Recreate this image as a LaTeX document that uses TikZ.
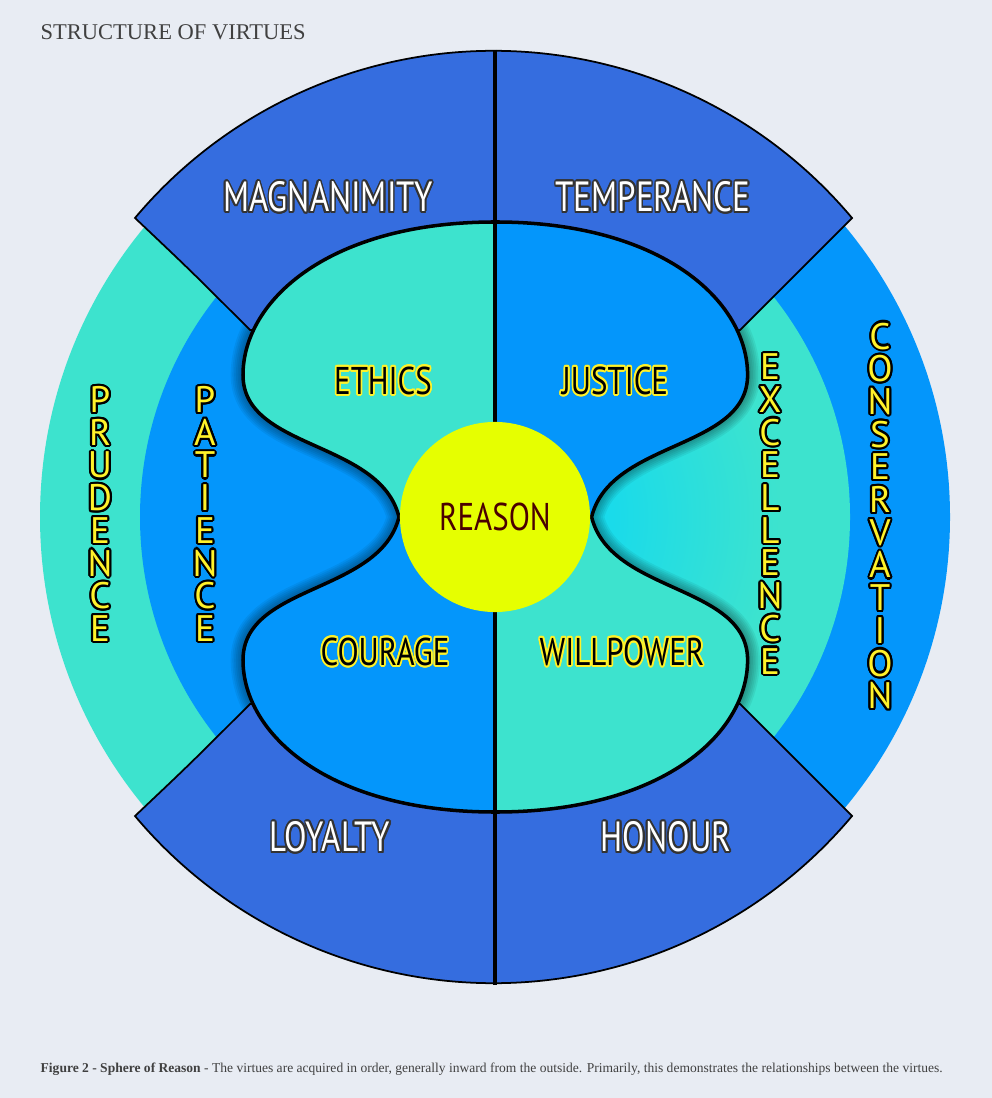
\documentclass[tikz,border=0pt]{standalone}
\usepackage{fontspec}
\setsansfont{PT Sans}
\setmainfont{Liberation Serif}
\usepackage{contour}
\contourlength{0.6pt}
\contournumber{16}
\usetikzlibrary{positioning}
\definecolor{bgcol}{HTML}{E8ECF3}
\definecolor{teal}{HTML}{3DE3CE}
\definecolor{skyblue}{HTML}{0496FB}
\definecolor{royal}{HTML}{356DDF}
\definecolor{lime}{HTML}{E6FF00}
\definecolor{gold}{HTML}{FFF22A}
\definecolor{maroon}{HTML}{4A0000}
\tikzset{
x=0.01cm, y=-0.01cm,
region/.style={draw=black, line width=0.5pt},
mirrored/.style={xshift=9.9cm, xscale=-1},
sectortext/.style={font=\sffamily\fontsize{12}{12}\selectfont, text=white},
lobetext/.style={font=\sffamily\fontsize{11}{11}\selectfont, text=black},
ringtext/.style={font=\sffamily\fontsize{10.5}{9.3}\selectfont, align=center, inner sep=0pt},
}
\newcommand{\whitelabel}[1]{\scalebox{0.78}[1]{\contour{black!80}{#1}}}
\newcommand{\glowlabel}[1]{\scalebox{0.8}[1]{\contour{gold}{#1}}}
\newcommand{\ringlabel}[1]{\contour{black}{\textcolor{gold}{#1}}}
\newcommand{\peanutleft}{(495,222) .. controls (330,222) and (243,300) .. (243,375) .. controls (243,450) and (380,440) .. (399,517) .. controls (380,594) and (243,584) .. (243,660) .. controls (243,735) and (330,812) .. (495,812)}
\begin{document}
\begin{tikzpicture}
    \fill[bgcol] (0,0) rectangle (992,1098);

    % outer and inner rings
    \begin{scope}
        \clip (0,0) rectangle (495,1098);
        \fill[teal] (495,517) circle[radius=455];
        \fill[skyblue] (495,517) circle[radius=355];
    \end{scope}
    \begin{scope}
        \clip (495,0) rectangle (992,1098);
        \fill[skyblue] (495,517) circle[radius=455];
        \fill[teal] (495,517) circle[radius=355];
        \shade[inner color=cyan!60!skyblue, outer color=teal] (495,517) circle[radius=285];
    \end{scope}

    % shadow around the lobes
    \begin{scope}
        \clip (495,517) circle[radius=350];
        \foreach \w in {70,60,...,10}{
            \draw[line width=\w*0.1pt, black, opacity=0.06] \peanutleft;
            \draw[line width=\w*0.1pt, black, opacity=0.06, mirrored] \peanutleft;
        }
    \end{scope}

    % top and bottom sectors
    \draw[region, fill=royal] (135,218) arc[start angle=-140, end angle=-40, radius=468]
        .. controls (800,270) .. (740,330) -- (495,320) -- (250,330) .. controls (190,270) .. cycle;
    \draw[region, fill=royal] (135,816) arc[start angle=140, end angle=40, radius=468]
        .. controls (800,764) .. (740,704) -- (495,714) -- (250,704) .. controls (190,764) .. cycle;

    % lobes
    \begin{scope}
        \clip \peanutleft -- (600,812) -- (600,222) -- cycle;
        \fill[teal] (200,200) rectangle (495,517);
        \fill[skyblue] (200,517) rectangle (495,830);
    \end{scope}
    \begin{scope}[mirrored]
        \clip \peanutleft -- (600,812) -- (600,222) -- cycle;
        \fill[skyblue] (200,200) rectangle (495,517);
        \fill[teal] (200,517) rectangle (495,830);
    \end{scope}
    \draw[line width=1pt] \peanutleft;
    \draw[line width=1pt, mirrored] \peanutleft;

    % centre line and circle
    \draw[line width=1.2pt] (495,50) -- (495,985);
    \node[circle, fill=lime, minimum size=1.9cm, inner sep=0pt] (reason) at (495,517) {};
    \node[font=\sffamily\fontsize{11}{11}\selectfont, text=maroon] (reasontext) at (reason) {\scalebox{0.8}[1]{REASON}};

    % labels
    \node[sectortext] (magnanimity) at (328,198) {\whitelabel{MAGNANIMITY}};
    \node[sectortext] (temperance) at (653,198) {\whitelabel{TEMPERANCE}};
    \node[sectortext] (loyalty) at (330,838) {\whitelabel{LOYALTY}};
    \node[sectortext] (honour) at (666,838) {\whitelabel{HONOUR}};
    \node[lobetext] (ethics) at (383,382) {\glowlabel{ETHICS}};
    \node[lobetext] (justice) at (615,382) {\glowlabel{JUSTICE}};
    \node[lobetext] (courage) at (385,653) {\glowlabel{COURAGE}};
    \node[lobetext] (willpower) at (622,653) {\glowlabel{WILLPOWER}};
    \node[ringtext] (prudence) at (100,515) {\ringlabel{P}\\\ringlabel{R}\\\ringlabel{U}\\\ringlabel{D}\\\ringlabel{E}\\\ringlabel{N}\\\ringlabel{C}\\\ringlabel{E}};
    \node[ringtext] (patience) at (205,515) {\ringlabel{P}\\\ringlabel{A}\\\ringlabel{T}\\\ringlabel{I}\\\ringlabel{E}\\\ringlabel{N}\\\ringlabel{C}\\\ringlabel{E}};
    \node[ringtext] (excellence) at (770,515) {\ringlabel{E}\\\ringlabel{X}\\\ringlabel{C}\\\ringlabel{E}\\\ringlabel{L}\\\ringlabel{L}\\\ringlabel{E}\\\ringlabel{N}\\\ringlabel{C}\\\ringlabel{E}};
    \node[ringtext] (conservation) at (880,517) {\ringlabel{C}\\\ringlabel{O}\\\ringlabel{N}\\\ringlabel{S}\\\ringlabel{E}\\\ringlabel{R}\\\ringlabel{V}\\\ringlabel{A}\\\ringlabel{T}\\\ringlabel{I}\\\ringlabel{O}\\\ringlabel{N}};

    % title and caption
    \node[anchor=west, font=\fontsize{6.4}{6.4}\selectfont, text=black!75, inner sep=0pt] (title) at (40,32) {STRUCTURE OF VIRTUES};
    \node[anchor=west, font=\fontsize{3.85}{3.85}\selectfont, text=black!75, inner sep=0pt] (caption) at (40,1069)
        {\textbf{Figure 2 - Sphere of Reason} - The virtues are acquired in order, generally inward from the outside. Primarily, this demonstrates the relationships between the virtues.};
\end{tikzpicture}
\end{document}
